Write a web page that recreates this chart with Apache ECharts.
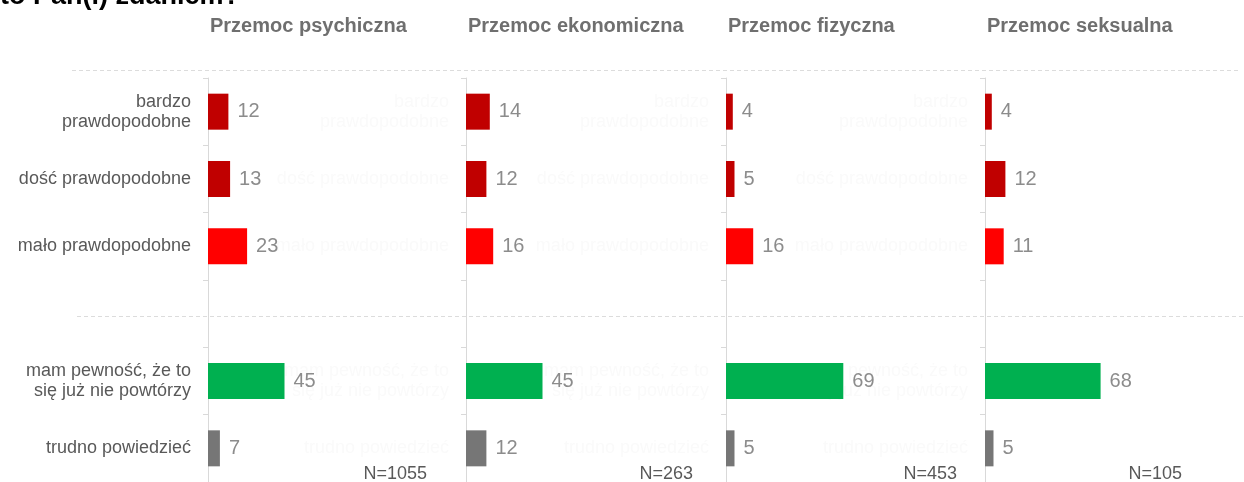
<!DOCTYPE html>
<html>
<head>
<meta charset="utf-8">
<script src="https://cdn.jsdelivr.net/npm/echarts@6/dist/echarts.min.js"></script>
<style>
	html, body { margin: 0; padding: 0; background: #fff; }
	#chart { width: 1244px; height: 482px; }
</style>
</head>
<body>
<div id="chart"></div>
<script>
"use strict";

var categories = [
	'bardzo\nprawdopodobne',
	'dość prawdopodobne',
	'mało prawdopodobne',
	'',
	'mam pewność, że to\nsię już nie powtórzy',
	'trudno powiedzieć'
];
var panelTitles = ['Przemoc psychiczna', 'Przemoc ekonomiczna', 'Przemoc fizyczna', 'Przemoc seksualna'];
var sampleSizes = ['N=1055', 'N=263', 'N=453', 'N=105'];
var psychiczna = [12, 13, 23, '-', 45, 7];
var ekonomiczna = [14, 12, 16, '-', 45, 12];
var fizyczna = [4, 5, 16, '-', 69, 5];
var seksualna = [4, 12, 11, '-', 68, 5];
var panelValues = [psychiczna, ekonomiczna, fizyczna, seksualna];
var barColors = ['#c00000', '#c00000', '#ff0000', '#ffffff', '#00b050', '#767676'];

var panelLeft = [208, 466, 726, 985];
var nLabelX = [427, 693, 957, 1182];

var font = '"Liberation Sans", Arial, sans-serif';

function panelData(values) {
	var d = [];
	for (var i = 0, len = values.length; i < len; i++) {
		d.push({
			value: values[i],
			itemStyle: { color: barColors[i] }
		});
	}
	return d;
}

var grids = [], xAxes = [], yAxes = [], series = [], titles = [], texts = [];

for (var p = 0; p < 4; p++) {
	grids.push({ left: panelLeft[p], top: 78, width: 170, height: 408 });
	xAxes.push({
		gridIndex: p, type: 'value', min: 0, max: 100, show: false
	});
	yAxes.push({
		gridIndex: p,
		type: 'category',
		inverse: true,
		data: categories,
		axisLine: { show: true, lineStyle: { color: '#d9d9d9', width: 1 } },
		axisTick: { show: true, length: 5, lineStyle: { color: '#d9d9d9' } },
		axisLabel: {
			interval: 0,
			margin: 17,
			fontFamily: font,
			fontSize: 18,
			lineHeight: 20,
			align: 'right',
			// labels of the inner panels are almost invisible in the source
			color: p === 0 ? '#595959' : '#fafafa'
		}
	});
	series.push({
		type: 'bar',
		xAxisIndex: p,
		yAxisIndex: p,
		barWidth: 36,
		data: panelData(panelValues[p]),
		label: {
			show: true,
			position: 'right',
			distance: 9,
			fontFamily: font,
			fontSize: 20,
			color: '#8c8c8c'
		}
	});
	titles.push({
		text: panelTitles[p],
		left: panelLeft[p] + 2,
		top: 16,
		padding: 0,
		textStyle: { fontFamily: font, fontSize: 20, fontWeight: 'bold', color: '#6f6f6f' }
	});
	texts.push({
		type: 'text',
		right: 1244 - nLabelX[p],
		top: 465,
		style: { text: sampleSizes[p], font: '18px ' + font, fill: '#595959' }
	});
}

texts.push({
	type: 'text',
	left: 0,
	top: -17,
	style: { text: 'to Pan(i) zdaniem?', font: 'bold 27px ' + font, fill: '#000000' }
});
texts.push({
	type: 'line',
	shape: { x1: 72, y1: 70.5, x2: 1240, y2: 70.5 },
	style: { stroke: '#dcdcdc', lineWidth: 1, lineDash: [4, 3] }
});
texts.push({
	type: 'line',
	shape: { x1: 77, y1: 316.5, x2: 1244, y2: 316.5 },
	style: { stroke: '#dcdcdc', lineWidth: 1, lineDash: [4, 3] }
});

var chart = echarts.init(document.getElementById('chart'));
chart.setOption({
	animation: false,
	title: titles,
	grid: grids,
	xAxis: xAxes,
	yAxis: yAxes,
	series: series,
	graphic: texts
});
</script>
</body>
</html>
